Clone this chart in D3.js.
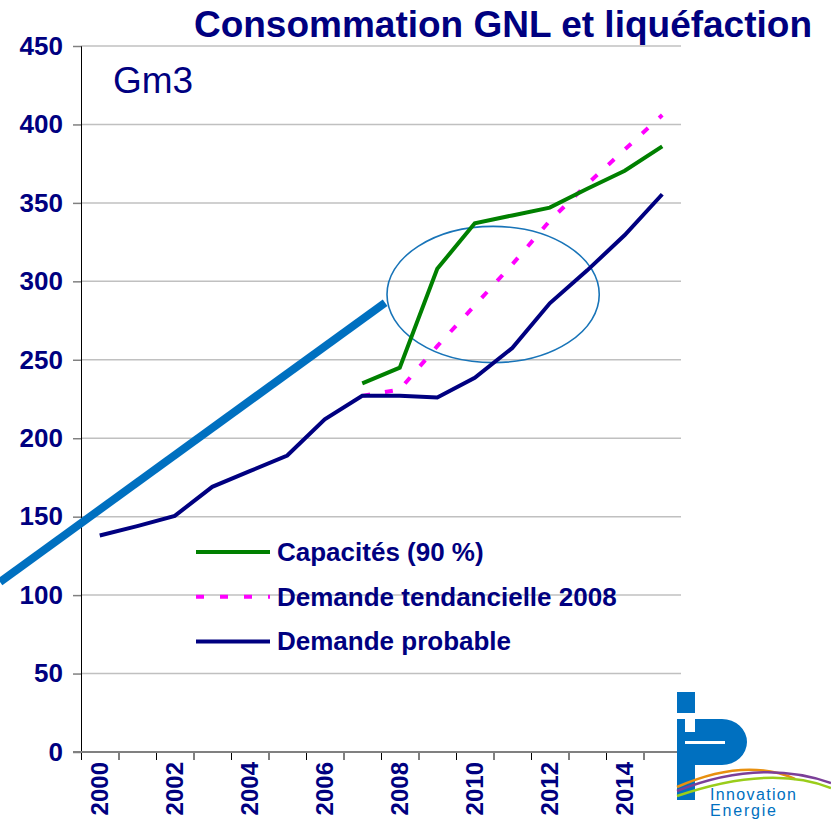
<!DOCTYPE html>
<html>
<head>
<meta charset="utf-8">
<script src="https://cdn.jsdelivr.net/npm/d3@7"></script>
<style>
  body { margin: 0; background: #fff; }
  svg { display: block; font-family: "Liberation Sans", Arial, sans-serif; }
</style>
</head>
<body>
<svg id="chart" width="831" height="819"></svg>
<script>
// values (Gm3)
var years = d3.range(2000, 2016);
var probable = [138, 144, 150.5, 169, 179, 189, 212, 227, 227, 226, 238.5, 257.5, 286, 307, 329.5, 355.5];
var capYears = d3.range(2007, 2016);
var capacity = [235, 245, 308, 337, 342, 347, 359, 370.5, 386];
var trendYears = d3.range(2007, 2016);
var trend = [227, 231, 258.7, 284.6, 310.8, 338.6, 362, 384, 406];
var yTicks = d3.range(0, 451, 50);
var xLabels = [2000, 2002, 2004, 2006, 2008, 2010, 2012, 2014];
// hand drawn annotations on the slide (year, Gm3)
var arrowLine = [[1997.84, 108.4], [2008.11, 286.4]];
var circle = { t: 2010.99, v: 291.6, rt: 2.83, rv: 43.4 };

var navy = "#000080", green = "#008000", pink = "#ff00ff", blue = "#0070c0";

var svg = d3.select("#chart");
var x = d3.scaleLinear().domain([2000, 2016]).range([81, 681]);
var y = d3.scaleLinear().domain([0, 450]).range([752, 46]);

// grid
svg.append("g").selectAll("line")
  .data(yTicks.filter(function(d){ return d > 0; }))
  .enter().append("line")
    .attr("x1", x(2000)).attr("x2", x(2016))
    .attr("y1", function(d){ return y(d); }).attr("y2", function(d){ return y(d); })
    .attr("stroke", "#c0c0c0").attr("stroke-width", 1.5);

// y axis
var yAxis = svg.append("g").attr("transform", "translate(" + x(2000) + ",0)")
  .call(d3.axisLeft(y).tickValues(yTicks).tickSize(8).tickPadding(10));
yAxis.select(".domain").attr("stroke", "#000").attr("stroke-width", 1);
yAxis.selectAll(".tick line").attr("stroke", "#808080").attr("stroke-width", 1.5);
yAxis.selectAll("text").attr("fill", navy).attr("font-size", 26).attr("font-weight", "bold")
  .attr("font-family", "Liberation Sans, Arial, sans-serif");

// x axis: ticks between categories
var xAxis = svg.append("g").attr("transform", "translate(0," + y(0) + ")")
  .call(d3.axisBottom(x).tickValues(d3.range(2000, 2017)).tickSize(8).tickFormat(""));
xAxis.select(".domain").remove();
xAxis.selectAll(".tick line").attr("stroke", "#000").attr("stroke-width", 1);
svg.append("line").attr("x1", x(2000) - 8).attr("x2", x(2016))
  .attr("y1", y(0)).attr("y2", y(0)).attr("stroke", "#808080").attr("stroke-width", 2);

var xLab = svg.append("g").attr("transform", "translate(0," + (y(0) + 10) + ")")
  .call(d3.axisBottom(x).tickValues(xLabels.map(function(d){ return d + 0.5; }))
    .tickSize(0).tickFormat(function(d){ return Math.floor(d); }));
xLab.select(".domain").remove();
xLab.selectAll("text")
  .attr("transform", "rotate(-90)")
  .attr("text-anchor", "end").attr("x", 0).attr("y", 0).attr("dy", "0.33em")
  .attr("fill", navy).attr("font-size", 24).attr("font-weight", "bold")
  .attr("font-family", "Liberation Sans, Arial, sans-serif");

// annotation line and ellipse
svg.append("line")
  .attr("x1", x(arrowLine[0][0])).attr("y1", y(arrowLine[0][1]))
  .attr("x2", x(arrowLine[1][0])).attr("y2", y(arrowLine[1][1]))
  .attr("stroke", blue).attr("stroke-width", 8);
svg.append("ellipse")
  .attr("cx", x(circle.t)).attr("cy", y(circle.v))
  .attr("rx", x(circle.t + circle.rt) - x(circle.t))
  .attr("ry", y(circle.v - circle.rv) - y(circle.v))
  .attr("fill", "none").attr("stroke", "#1874b8").attr("stroke-width", 1.6);

// series
var line = d3.line()
  .x(function(d){ return x(d[0] + 0.5); })
  .y(function(d){ return y(d[1]); });
function pairs(xs, vs){ return xs.map(function(t, i){ return [t, vs[i]]; }); }

svg.append("path").datum(pairs(trendYears, trend))
  .attr("d", line).attr("fill", "none").attr("stroke", pink)
  .attr("stroke-width", 4).attr("stroke-dasharray", "8,15");
svg.append("path").datum(pairs(capYears, capacity))
  .attr("d", line).attr("fill", "none").attr("stroke", green).attr("stroke-width", 4);
svg.append("path").datum(pairs(years, probable))
  .attr("d", line).attr("fill", "none").attr("stroke", navy).attr("stroke-width", 4);

// legend
var legend = [
  { name: "Capacités (90 %)", color: green, dash: null },
  { name: "Demande tendancielle 2008", color: pink, dash: "8,16" },
  { name: "Demande probable", color: navy, dash: null }
];
var lg = svg.append("g").selectAll("g").data(legend).enter().append("g")
  .attr("transform", function(d, i){ return "translate(196," + (552 + i * 44.7) + ")"; });
lg.append("line").attr("x1", 0).attr("x2", 74)
  .attr("stroke", function(d){ return d.color; }).attr("stroke-width", 4)
  .attr("stroke-dasharray", function(d){ return d.dash; });
lg.append("text").attr("x", 81).attr("y", 9)
  .attr("fill", navy).attr("font-size", 26).attr("font-weight", "bold")
  .text(function(d){ return d.name; });

// titles
svg.append("text").attr("x", 812).attr("y", 37).attr("text-anchor", "end")
  .attr("fill", navy).attr("font-size", 37).attr("font-weight", "bold")
  .text("Consommation GNL et liquéfaction");
svg.append("text").attr("x", 113).attr("y", 93)
  .attr("fill", navy).attr("font-size", 37)
  .text("Gm3");

// logo
var logo = svg.append("g");
logo.append("rect").attr("x", 677).attr("y", 692).attr("width", 18).attr("height", 21).attr("fill", blue);
logo.append("path").attr("d", "M677,719 H722 A25,23 0 0 1 722,765 H695 V800 H677 Z").attr("fill", blue);
logo.append("rect").attr("x", 685).attr("y", 719).attr("width", 10).attr("height", 13).attr("fill", "#fff");
logo.append("rect").attr("x", 685).attr("y", 741).attr("width", 40).attr("height", 3).attr("fill", "#fff");
logo.append("path").attr("d", "M677,787 Q745,757 795,779").attr("fill", "none").attr("stroke", "#e8900f").attr("stroke-width", 2.5);
logo.append("path").attr("d", "M677,791 Q760,758 831,783").attr("fill", "none").attr("stroke", "#7b3f98").attr("stroke-width", 2.5);
logo.append("path").attr("d", "M677,796 Q770,764 831,788").attr("fill", "none").attr("stroke", "#9acd1a").attr("stroke-width", 2.5);
logo.append("text").attr("x", 710).attr("y", 800).attr("fill", blue).attr("font-size", 16)
  .attr("textLength", 86).text("Innovation");
logo.append("text").attr("x", 710).attr("y", 816).attr("fill", blue).attr("font-size", 16)
  .attr("textLength", 66).text("Energie");
</script>
</body>
</html>
